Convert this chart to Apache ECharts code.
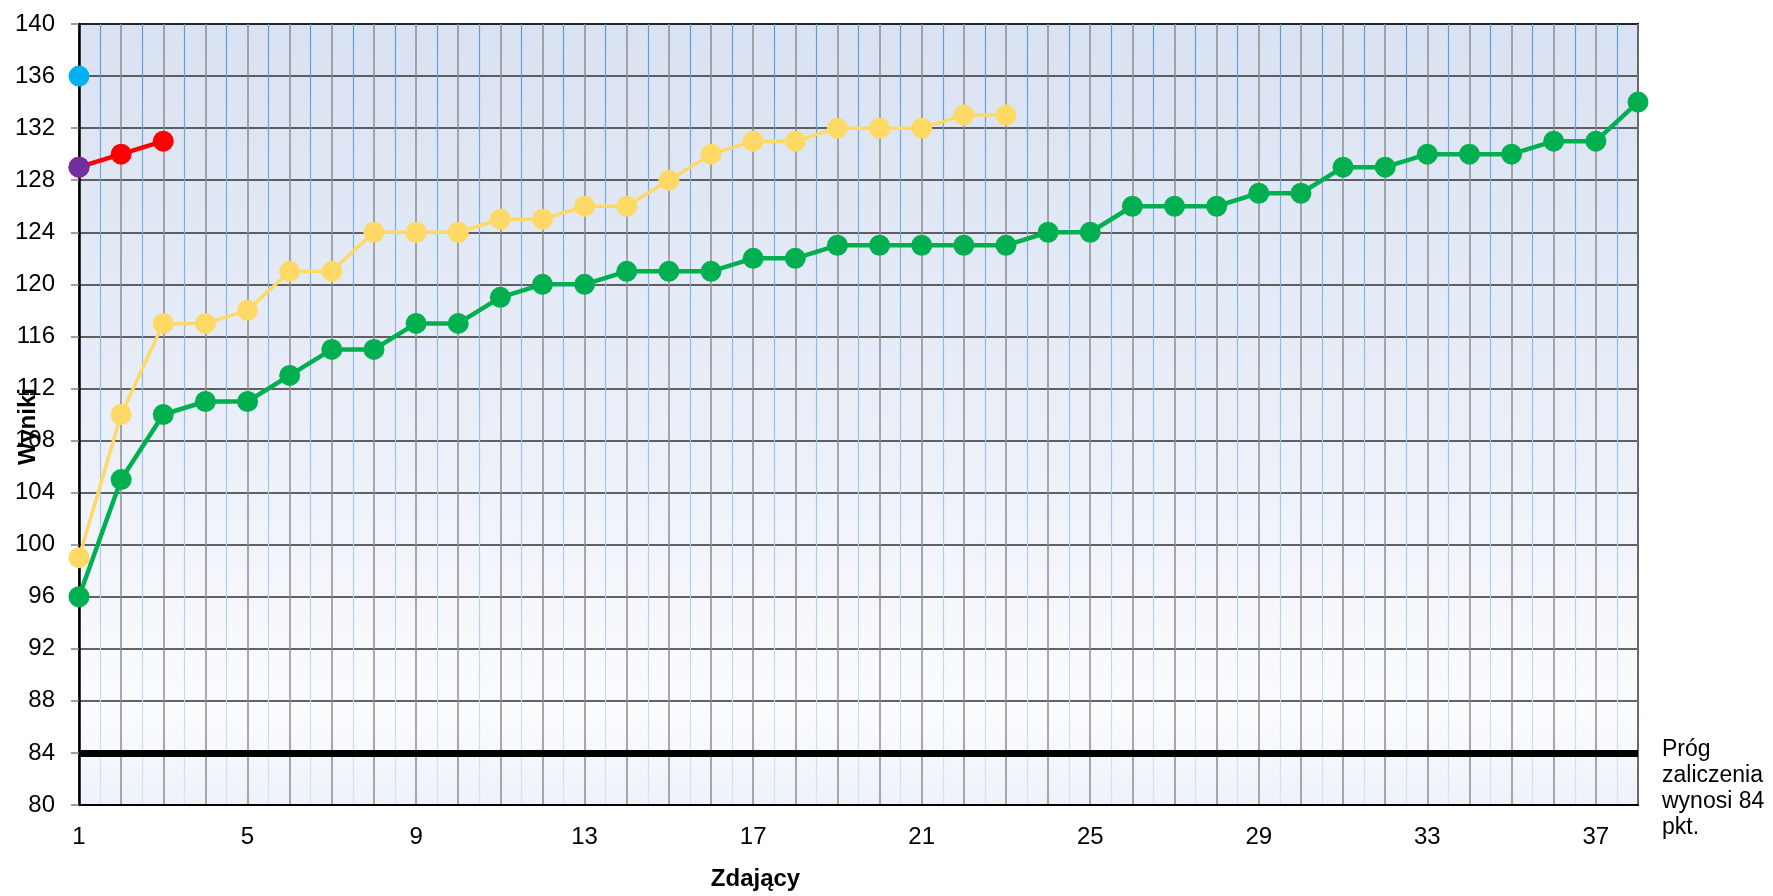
<!DOCTYPE html>
<html>
<head>
<meta charset="utf-8">
<script src="https://cdn.jsdelivr.net/npm/echarts@6/dist/echarts.min.js"></script>
<style>
html,body{margin:0;padding:0;background:#fff;}
#chart{width:1773px;height:896px;}
</style>
</head>
<body>
<div id="chart"></div>
<script>
// Data
const xMin = 1, xMax = 38;
const yMin = 80, yMax = 140, yStep = 4;
const threshold = 84;
const thresholdText = 'Próg\nzaliczenia\nwynosi 84\npkt.';
const xTitle = 'Zdający';
const yTitle = 'Wyniki';

const greenValues = [96,105,110,111,111,113,115,115,117,117,119,120,120,121,121,121,122,122,123,123,123,123,123,124,124,126,126,126,127,127,129,129,130,130,130,131,131,134];
const yellowValues = [99,110,117,117,118,121,121,124,124,124,125,125,126,126,128,130,131,131,132,132,132,133,133];
const redValues = [129,130,131];
const purpleValues = [129];
const blueValues = [136];

const toPairs = arr => arr.map((v, i) => [i + 1, v]);
const FONT = '"Liberation Sans", Arial, sans-serif';

const chart = echarts.init(document.getElementById('chart'));

function lineSeries(name, values, color, width) {
  return {
    name: name,
    type: 'line',
    data: toPairs(values),
    symbol: 'circle',
    symbolSize: 21,
    lineStyle: { color: color, width: width },
    itemStyle: { color: color },
    emphasis: { disabled: true },
    z: 3
  };
}

const greenS = lineSeries('green', greenValues, '#00b050', 4.5);
greenS.markLine = {
  silent: true,
  symbol: ['none', 'none'],
  animation: false,
  lineStyle: { color: '#000', width: 7, type: 'solid' },
  data: [{ yAxis: threshold }],
  label: {
    show: true,
    position: 'end',
    formatter: thresholdText,
    color: '#000',
    fontFamily: FONT,
    fontSize: 23,
    lineHeight: 26,
    align: 'left',
    verticalAlign: 'top',
    distance: 24,
    offset: [0, -16]
  },
  z: 2
};

chart.setOption({
  animation: false,
  backgroundColor: '#fff',
  grid: {
    left: 79, right: 135, top: 24, bottom: 91,
    containLabel: false,
    outerBoundsMode: 'none',
    show: true,
    borderColor: '#000',
    borderWidth: 2,
    backgroundColor: new echarts.graphic.LinearGradient(0, 0, 0, 1, [
      { offset: 0, color: '#d9e2f2' },
      { offset: 0.5, color: '#e9eef8' },
      { offset: 0.88, color: '#fbfcfe' },
      { offset: 1, color: '#edf2f9' }
    ])
  },
  xAxis: {
    type: 'value',
    min: xMin, max: xMax, interval: 1,
    name: xTitle,
    nameLocation: 'middle',
    nameGap: 62,
    nameMoveOverlap: false,
    nameTextStyle: { fontFamily: FONT, fontSize: 24, fontWeight: 'bold', color: '#000', padding: [0, 206, 0, 0] },
    axisLine: { show: true, lineStyle: { color: '#000', width: 2 } },
    axisTick: { show: false },
    axisLabel: {
      fontFamily: FONT, fontSize: 24, color: '#000', margin: 20,
      formatter: v => ((v - 1) % 4 === 0 ? String(v) : '')
    },
    splitLine: { show: true, lineStyle: { color: '#8c8c8c', width: 1.5 } },
    minorTick: { show: false, splitNumber: 2 },
    minorSplitLine: {
      show: true,
      lineStyle: {
        width: 1.2,
        color: new echarts.graphic.LinearGradient(0, 0, 0, 1, [
          { offset: 0, color: '#5b9bd5' },
          { offset: 1, color: '#d6e4f3' }
        ])
      }
    }
  },
  yAxis: {
    type: 'value',
    min: yMin, max: yMax, interval: yStep,
    name: yTitle,
    nameLocation: 'middle',
    nameGap: 39,
    nameRotate: 90,
    nameMoveOverlap: false,
    nameTextStyle: { fontFamily: FONT, fontSize: 24, fontWeight: 'bold', color: '#000', padding: [0, 24, 0, 0] },
    axisLine: { show: true, lineStyle: { color: '#000', width: 2.5 } },
    axisTick: { show: true, inside: false, length: 8, lineStyle: { color: '#808080', width: 1.5 } },
    axisLabel: { fontFamily: FONT, fontSize: 24, color: '#000', margin: 24 },
    splitLine: { show: true, lineStyle: { color: '#303030', width: 1.5 } }
  },
  series: [
    greenS,
    lineSeries('yellow', yellowValues, '#ffd966', 3.5),
    lineSeries('red', redValues, '#ff0000', 4.5),
    lineSeries('purple', purpleValues, '#7030a0', 4),
    lineSeries('blue', blueValues, '#00b0f0', 4)
  ]
});
</script>
</body>
</html>
